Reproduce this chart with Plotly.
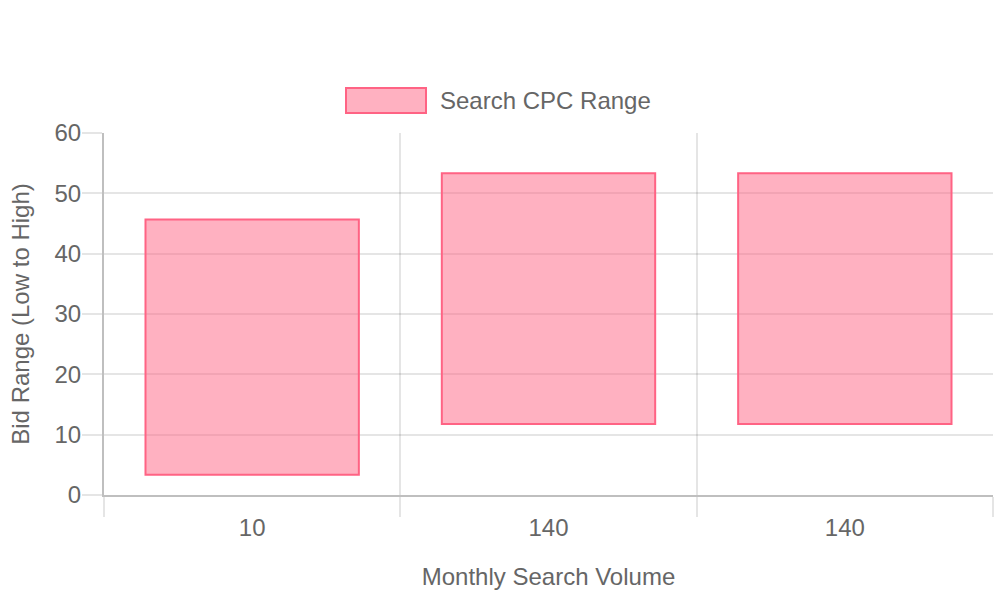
import plotly.graph_objects as go

categories = ["10", "140", "140"]
low_values = [3.36, 11.77, 11.77]
high_values = [45.65, 53.33, 53.33]
series_name = "Search CPC Range"
y_ticks = [0, 10, 20, 30, 40, 50, 60]

FONT = "Liberation Sans, Arial, Helvetica, sans-serif"
TXT = "#666666"
GRID = "rgba(0,0,0,0.1)"
BORDER = "rgba(0,0,0,0.25)"
FILL = "rgba(255,99,132,0.5)"
LINE = "rgb(255,99,132)"

positions = list(range(len(categories)))
spans = [h - l for h, l in zip(high_values, low_values)]

fig = go.Figure()
fig.add_trace(go.Bar(
    x=positions, y=spans, base=low_values, name=series_name,
    width=0.72, marker=dict(color=FILL, line=dict(color=LINE, width=2)),
    showlegend=False, xaxis="x", yaxis="y",
))
# invisible trace for label axis
fig.add_trace(go.Scatter(x=positions, y=[None]*len(positions), xaxis="x2", yaxis="y",
                         showlegend=False, hoverinfo="skip"))

boundaries = [p - 0.5 for p in positions] + [positions[-1] + 0.5]

fig.update_layout(
    width=1000, height=600,
    margin=dict(l=104, r=7, t=133, b=105, autoexpand=False),
    paper_bgcolor="white", plot_bgcolor="white",
    font=dict(family=FONT, size=24, color=TXT),
    xaxis=dict(
        range=[-0.5, len(categories) - 0.5], tickmode="array",
        tickvals=boundaries, ticktext=[""] * len(boundaries),
        showgrid=True, gridcolor=GRID, gridwidth=2,
        ticks="outside", ticklen=20, tickwidth=2, tickcolor=GRID,
        showline=True, linecolor=BORDER, linewidth=2,
        zeroline=False, automargin=False,
    ),
    xaxis2=dict(
        range=[-0.5, len(categories) - 0.5], overlaying="x", anchor="y", side="bottom",
        tickmode="array", tickvals=positions, ticktext=categories,
        showgrid=False, ticks="outside", ticklen=11, tickcolor="rgba(0,0,0,0)",
        showline=False, zeroline=False, automargin=False,
        tickfont=dict(size=24, color=TXT),
        title=dict(text="Monthly Search Volume", standoff=28, font=dict(size=24, color=TXT)),
    ),
    yaxis=dict(
        range=[0, 60], tickmode="array", tickvals=y_ticks,
        showgrid=True, gridcolor=GRID, gridwidth=2,
        ticks="outside", ticklen=20, tickwidth=2, tickcolor=GRID,
        ticklabelstandoff=-4,
        showline=True, linecolor=BORDER, linewidth=2,
        zeroline=False, automargin=False,
        tickfont=dict(size=24, color=TXT),
        title=dict(text="Bid Range (Low to High)", standoff=18, font=dict(size=24, color=TXT)),
    ),
    showlegend=False,
)

# Legend (Chart.js style box)
fig.add_shape(type="rect", xref="paper", yref="paper",
              x0=(346 - 104) / 889, x1=(426 - 104) / 889,
              y0=(495 - 113) / 362, y1=(495 - 88) / 362,
              fillcolor=FILL, line=dict(color=LINE, width=2))
fig.add_annotation(xref="paper", yref="paper", x=(438 - 104) / 889, y=(495 - 100.5) / 362,
                   text=series_name, showarrow=False, xanchor="left", yanchor="middle",
                   font=dict(size=24, color=TXT, family=FONT))

fig.write_html("out.html", config={"displayModeBar": False},
               post_script="document.body.style.margin='0';document.body.style.padding='0';")
